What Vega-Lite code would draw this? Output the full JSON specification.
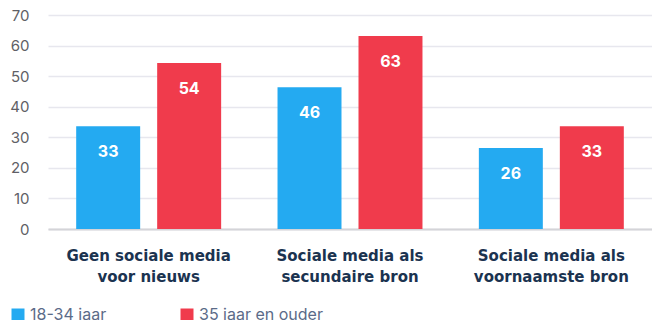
{
  "$schema": "https://vega.github.io/schema/vega-lite/v6.json",
  "width": 604,
  "height": 214,
  "autosize": {"type": "none"},
  "padding": {"left": 48, "top": 15, "right": 0, "bottom": 91},
  "background": "white",
  "config": {
    "view": {"stroke": null},
    "font": "Inter"
  },
  "data": {
    "values": [
      {"cat": "Geen sociale media|voor nieuws", "group": "18-34 jaar", "value": 33.6, "label": "33"},
      {"cat": "Geen sociale media|voor nieuws", "group": "35 jaar en ouder", "value": 54.3, "label": "54"},
      {"cat": "Sociale media als|secundaire bron", "group": "18-34 jaar", "value": 46.4, "label": "46"},
      {"cat": "Sociale media als|secundaire bron", "group": "35 jaar en ouder", "value": 63.1, "label": "63"},
      {"cat": "Sociale media als|voornaamste bron", "group": "18-34 jaar", "value": 26.5, "label": "26"},
      {"cat": "Sociale media als|voornaamste bron", "group": "35 jaar en ouder", "value": 33.6, "label": "33"}
    ]
  },
  "encoding": {
    "x": {
      "field": "cat",
      "type": "nominal",
      "sort": null,
      "scale": {"paddingInner": 0.28, "paddingOuter": 0.14},
      "axis": {
        "title": null,
        "labelAngle": 0,
        "labelExpr": "split(datum.value, '|')",
        "labelFont": "DejaVu Sans",
        "labelFontWeight": "bold",
        "labelFontSize": 15,
        "labelLineHeight": 21,
        "labelBaseline": "alphabetic",
        "labelColor": "#1b3350",
        "labelPadding": 31,
        "ticks": false,
        "tickSize": 0,
        "domainColor": "#d4d4d8",
        "domainWidth": 2,
        "labelLimit": 300
      }
    },
    "xOffset": {
      "field": "group",
      "type": "nominal",
      "scale": {"paddingInner": 0.21, "paddingOuter": 0}
    },
    "y": {
      "field": "value",
      "type": "quantitative",
      "scale": {"domain": [0, 70], "nice": false},
      "axis": {
        "title": null,
        "values": [0, 10, 20, 30, 40, 50, 60, 70],
        "grid": true,
        "gridColor": "#e7e7ee",
        "gridWidth": 1.5,
        "domain": false,
        "ticks": false,
        "tickSize": 0,
        "labelPadding": 19,
        "labelFont": "Inter",
        "labelFontSize": 15,
        "labelColor": "#5f5f66"
      }
    }
  },
  "layer": [
    {
      "mark": {"type": "bar"},
      "encoding": {
        "color": {
          "field": "group",
          "type": "nominal",
          "scale": {"domain": ["18-34 jaar", "35 jaar en ouder"], "range": ["#24aaf1", "#f03b4c"]},
          "legend": {
            "title": null,
            "orient": "none",
            "direction": "horizontal",
            "legendX": -38,
            "legendY": 292,
            "symbolType": "square",
            "symbolSize": 169,
            "symbolOpacity": 1,
            "labelFont": "Inter",
            "labelFontSize": 16,
            "labelColor": "#5b6b88",
            "columnPadding": 72,
            "labelOffset": 4
          }
        }
      }
    },
    {
      "mark": {"type": "text", "baseline": "middle", "dy": 26, "fontWeight": "bold", "fontSize": 16, "color": "white", "font": "Inter"},
      "encoding": {
        "text": {"field": "label"}
      }
    }
  ]
}
